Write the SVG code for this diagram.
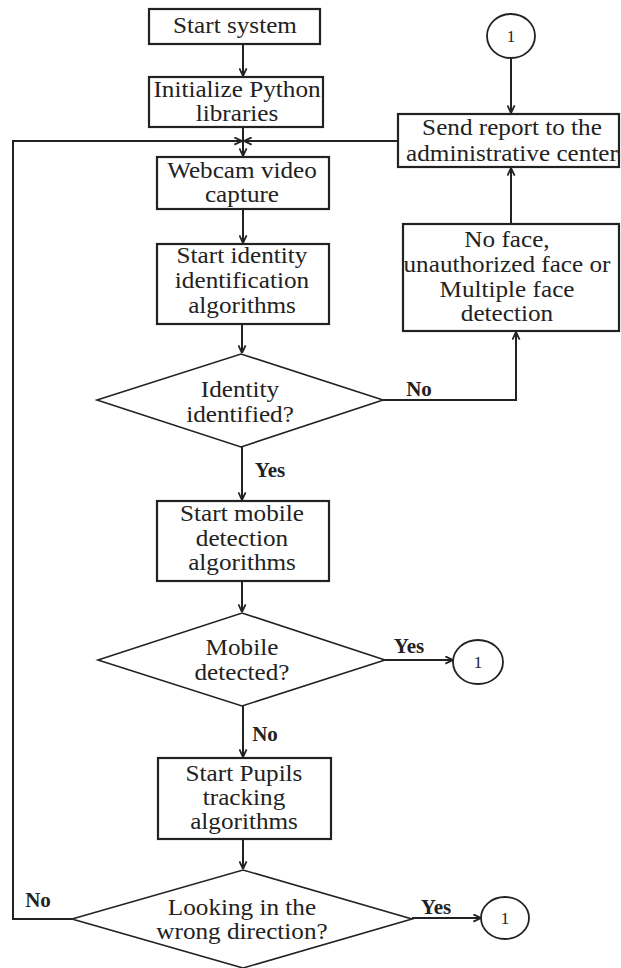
<svg xmlns="http://www.w3.org/2000/svg" width="621" height="968" viewBox="0 0 621 968">
<style>
.box{fill:#fff;stroke:#222;stroke-width:2.2}
.dia{fill:#fff;stroke:#222;stroke-width:1.6}
.con{fill:none;stroke:#222;stroke-width:2}
.t{font-family:"Liberation Serif","Times New Roman",serif;font-size:22.5px;fill:#222;text-anchor:middle}
.lb{font-family:"Liberation Serif","Times New Roman",serif;font-size:21px;font-weight:bold;fill:#222;text-anchor:middle}
.c{font-family:"Liberation Serif","Times New Roman",serif;font-size:17px;fill:#222;text-anchor:middle}
</style>
<defs>
<marker id="arr" viewBox="0 0 10 10" refX="9.5" refY="5" markerWidth="9" markerHeight="9" markerUnits="userSpaceOnUse" orient="auto">
<path d="M1,1 L9.5,5 L1,9" fill="none" stroke="#222" stroke-width="2"/>
</marker>
</defs>
<rect width="621" height="968" fill="#fff"/>

<g id="connectors">
<line class="con" x1="243" y1="44" x2="243" y2="76" marker-end="url(#arr)"/>
<line class="con" x1="243" y1="127" x2="243" y2="156" marker-end="url(#arr)"/>
<line class="con" x1="243" y1="209" x2="243" y2="243" marker-end="url(#arr)"/>
<line class="con" x1="242" y1="324" x2="242" y2="353" marker-end="url(#arr)"/>
<line class="con" x1="242" y1="447" x2="242" y2="500" marker-end="url(#arr)"/>
<line class="con" x1="242" y1="581" x2="242" y2="612" marker-end="url(#arr)"/>
<line class="con" x1="243" y1="706" x2="243" y2="757" marker-end="url(#arr)"/>
<line class="con" x1="243" y1="839" x2="243" y2="869" marker-end="url(#arr)"/>
<polyline class="con" points="383,400 516,400 516,332" marker-end="url(#arr)"/>
<line class="con" x1="511" y1="224" x2="511" y2="168" marker-end="url(#arr)"/>
<line class="con" x1="511" y1="58" x2="511" y2="113" marker-end="url(#arr)"/>
<line class="con" x1="385" y1="660" x2="453" y2="660" marker-end="url(#arr)"/>
<line class="con" x1="412" y1="918" x2="481" y2="918" marker-end="url(#arr)"/>
<polyline class="con" points="72,919 13,919 13,141 242,141" marker-end="url(#arr)"/>
<line class="con" x1="398" y1="141" x2="244" y2="141" marker-end="url(#arr)"/>
<text class="lb" x="419" y="396">No</text>
<text class="lb" x="270" y="477">Yes</text>
<text class="lb" x="409" y="653">Yes</text>
<text class="lb" x="265" y="741">No</text>
<text class="lb" x="38" y="907">No</text>
<text class="lb" x="436" y="914">Yes</text>
</g>

<g id="start">
<rect class="box" x="149" y="9" width="171" height="35"/>
<text class="t" transform="translate(235 0) scale(1.12 1)"><tspan x="0" y="33">Start system</tspan></text>
</g>

<g id="init">
<rect class="box" x="149" y="77" width="174" height="50"/>
<text class="t" transform="translate(237 0) scale(1.12 1)"><tspan x="0" y="97">Initialize Python</tspan><tspan x="0" y="121">libraries</tspan></text>
</g>

<g id="webcam">
<rect class="box" x="157" y="157" width="172" height="52"/>
<text class="t" transform="translate(242 0) scale(1.12 1)"><tspan x="0" y="178">Webcam video</tspan><tspan x="0" y="202">capture</tspan></text>
</g>

<g id="identity-algo">
<rect class="box" x="157" y="244" width="172" height="80"/>
<text class="t" transform="translate(242 0) scale(1.12 1)"><tspan x="0" y="263">Start identity</tspan><tspan x="0" y="288">identification</tspan><tspan x="0" y="313">algorithms</tspan></text>
</g>

<g id="identity-check">
<polygon class="dia" points="97,400 241,354 383,400 241,447"/>
<text class="t" transform="translate(240 0) scale(1.12 1)"><tspan x="0" y="397">Identity</tspan><tspan x="0" y="422">identified?</tspan></text>
</g>

<g id="send-report">
<rect class="box" x="398" y="114" width="221" height="53"/>
<text class="t" transform="translate(512 0) scale(1.12 1)"><tspan x="0" y="135">Send report to the</tspan><tspan x="0" y="161">administrative center</tspan></text>
</g>

<g id="connector-top">
<ellipse cx="511" cy="36" rx="24" ry="22" fill="#fff" stroke="#222" stroke-width="1.8"/>
<text class="c" x="511" y="42">1</text>
</g>

<g id="no-face">
<rect class="box" x="403" y="224" width="216" height="107"/>
<text class="t" transform="translate(507 0) scale(1.12 1)"><tspan x="0" y="247">No face,</tspan><tspan x="0" y="272">unauthorized face or</tspan><tspan x="0" y="297">Multiple face</tspan><tspan x="0" y="321">detection</tspan></text>
</g>

<g id="mobile-algo">
<rect class="box" x="157" y="501" width="172" height="80"/>
<text class="t" transform="translate(242 0) scale(1.12 1)"><tspan x="0" y="521">Start mobile</tspan><tspan x="0" y="546">detection</tspan><tspan x="0" y="570">algorithms</tspan></text>
</g>

<g id="mobile-check">
<polygon class="dia" points="98,660 242,613 385,660 242,706"/>
<text class="t" transform="translate(242 0) scale(1.12 1)"><tspan x="0" y="655">Mobile</tspan><tspan x="0" y="680">detected?</tspan></text>
</g>

<g id="connector-mobile">
<ellipse cx="478" cy="662" rx="25" ry="22" fill="#fff" stroke="#222" stroke-width="1.8"/>
<text class="c" x="478" y="668">1</text>
</g>

<g id="pupils-algo">
<rect class="box" x="158" y="758" width="173" height="81"/>
<text class="t" transform="translate(244 0) scale(1.12 1)"><tspan x="0" y="781">Start Pupils</tspan><tspan x="0" y="805">tracking</tspan><tspan x="0" y="829">algorithms</tspan></text>
</g>

<g id="direction-check">
<polygon class="dia" points="72,919 243,870 412,919 243,968"/>
<text class="t" transform="translate(242 0) scale(1.12 1)"><tspan x="0" y="915">Looking in the</tspan><tspan x="0" y="939">wrong direction?</tspan></text>
</g>

<g id="connector-direction">
<ellipse cx="505" cy="918" rx="24" ry="21" fill="#fff" stroke="#222" stroke-width="1.8"/>
<text class="c" x="505" y="924">1</text>
</g>
</svg>
